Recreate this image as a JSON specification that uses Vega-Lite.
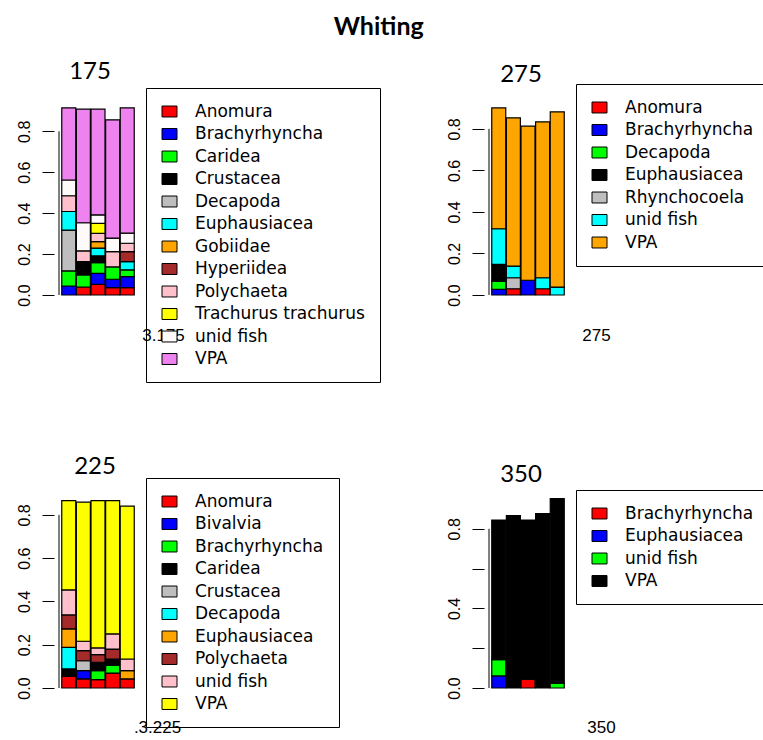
{
  "$schema": "https://vega.github.io/schema/vega-lite/v6.json",
  "background": "white",
  "padding": {"left": 15, "top": 14, "right": 0, "bottom": 0},
  "title": {"text": "Whiting", "font": "Lato", "fontSize": 25, "fontWeight": "bold", "color": "black", "anchor": "middle", "frame": "bounds", "dx": -14, "offset": 20},
  "columns": 2,
  "spacing": {"row": 198, "column": 342},
  "bounds": "flush",
  "resolve": {"scale": {"color": "independent"}, "legend": {"color": "independent"}},
  "config": {
    "view": {"stroke": null},
    "axis": {"labelFont": "Liberation Sans", "labelFontSize": 16, "labelColor": "black", "tickColor": "black", "tickSize": 12, "tickWidth": 1, "titleFont": "Liberation Sans", "titleFontSize": 17, "titleFontWeight": "normal", "titleColor": "black"},
    "legend": {"labelFont": "DejaVu Sans", "labelFontSize": 17, "labelColor": "black", "labelOffset": 17, "symbolType": "M-1,-0.73H1V0.73H-1Z", "symbolSize": 225, "symbolStrokeColor": "black", "symbolStrokeWidth": 1, "symbolOpacity": 1, "strokeColor": "black", "padding": 15, "rowPadding": 4.5, "orient": "none", "title": null, "labelLimit": 400},
    "title": {"font": "Lato", "fontSize": 24, "fontWeight": "normal", "color": "black"}
  },
  "concat": [
    {
      "width": 88, "height": 195,
      "title": {"text": "175", "anchor": "middle", "dx": -8, "offset": 4},
      "data": {"values": [
        {"bar": 1, "taxon": "Brachyrhyncha", "p": 0.044},
        {"bar": 1, "taxon": "Caridea", "p": 0.074},
        {"bar": 1, "taxon": "Decapoda", "p": 0.199},
        {"bar": 1, "taxon": "Euphausiacea", "p": 0.091},
        {"bar": 1, "taxon": "Polychaeta", "p": 0.077},
        {"bar": 1, "taxon": "unid fish", "p": 0.077},
        {"bar": 1, "taxon": "VPA", "p": 0.353},
        {"bar": 2, "taxon": "Anomura", "p": 0.039},
        {"bar": 2, "taxon": "Caridea", "p": 0.059},
        {"bar": 2, "taxon": "Crustacea", "p": 0.065},
        {"bar": 2, "taxon": "Polychaeta", "p": 0.053},
        {"bar": 2, "taxon": "unid fish", "p": 0.137},
        {"bar": 2, "taxon": "VPA", "p": 0.555},
        {"bar": 3, "taxon": "Anomura", "p": 0.052},
        {"bar": 3, "taxon": "Brachyrhyncha", "p": 0.054},
        {"bar": 3, "taxon": "Caridea", "p": 0.052},
        {"bar": 3, "taxon": "Crustacea", "p": 0.033},
        {"bar": 3, "taxon": "Euphausiacea", "p": 0.038},
        {"bar": 3, "taxon": "Gobiidae", "p": 0.032},
        {"bar": 3, "taxon": "Polychaeta", "p": 0.040},
        {"bar": 3, "taxon": "Trachurus trachurus", "p": 0.049},
        {"bar": 3, "taxon": "unid fish", "p": 0.042},
        {"bar": 3, "taxon": "VPA", "p": 0.516},
        {"bar": 4, "taxon": "Anomura", "p": 0.036},
        {"bar": 4, "taxon": "Brachyrhyncha", "p": 0.041},
        {"bar": 4, "taxon": "Caridea", "p": 0.060},
        {"bar": 4, "taxon": "Polychaeta", "p": 0.075},
        {"bar": 4, "taxon": "unid fish", "p": 0.066},
        {"bar": 4, "taxon": "VPA", "p": 0.578},
        {"bar": 5, "taxon": "Anomura", "p": 0.036},
        {"bar": 5, "taxon": "Brachyrhyncha", "p": 0.054},
        {"bar": 5, "taxon": "Caridea", "p": 0.033},
        {"bar": 5, "taxon": "Euphausiacea", "p": 0.040},
        {"bar": 5, "taxon": "Hyperiidea", "p": 0.049},
        {"bar": 5, "taxon": "Polychaeta", "p": 0.041},
        {"bar": 5, "taxon": "unid fish", "p": 0.049},
        {"bar": 5, "taxon": "VPA", "p": 0.613}
      ]},
      "transform": [{"calculate": "lower(datum.taxon)", "as": "k"}],
      "layer": [
        {
          "mark": {"type": "bar", "width": 14, "stroke": "black", "strokeWidth": 1.2},
          "encoding": {
            "x": {"field": "bar", "type": "quantitative", "scale": {"domain": [0.333, 5.667], "nice": false, "zero": false}, "axis": {"domain": false, "ticks": false, "labels": false, "grid": false, "title": "3.175", "titleX": 109, "titleY": 40, "titleAlign": "center", "titleBaseline": "middle", "titleAnchor": null}},
            "y": {"field": "p", "type": "quantitative", "stack": "zero", "scale": {"domain": [0, 0.953], "nice": false, "zero": true}, "axis": {"domain": false, "grid": false, "title": null, "values": [0, 0.2, 0.4, 0.6, 0.8], "format": ".1f", "labelAngle": -90, "labelAlign": "center", "labelBaseline": "bottom", "labelPadding": 10}},
            "color": {"field": "taxon", "type": "nominal",
              "scale": {"domain": ["Anomura", "Brachyrhyncha", "Caridea", "Crustacea", "Decapoda", "Euphausiacea", "Gobiidae", "Hyperiidea", "Polychaeta", "Trachurus trachurus", "unid fish", "VPA"],
                        "range": ["#FF0000", "#0000FF", "#00FF00", "#000000", "#BEBEBE", "#00FFFF", "#FFA500", "#A52A2A", "#FFC0CB", "#FFFF00", "#FFFAFA", "#EE82EE"]},
              "legend": {"orient": "none", "legendX": 92, "legendY": -12}},
            "order": {"field": "k", "type": "ordinal", "sort": "ascending"}
          }
        },
        {
          "data": {"values": [{"from": 0, "to": 0.8}]},
          "mark": {"type": "rule", "color": "black", "strokeWidth": 1},
          "encoding": {"x": {"datum": 0.333}, "y": {"field": "from", "type": "quantitative"}, "y2": {"field": "to"}}
        }
      ]
    },
    {
      "width": 88, "height": 195,
      "title": {"text": "275", "anchor": "middle", "dx": -7, "offset": -3},
      "data": {"values": [
        {"bar": 1, "taxon": "Brachyrhyncha", "p": 0.027},
        {"bar": 1, "taxon": "Decapoda", "p": 0.040},
        {"bar": 1, "taxon": "Euphausiacea", "p": 0.080},
        {"bar": 1, "taxon": "unid fish", "p": 0.172},
        {"bar": 1, "taxon": "VPA", "p": 0.582},
        {"bar": 2, "taxon": "Anomura", "p": 0.030},
        {"bar": 2, "taxon": "Rhynchocoela", "p": 0.053},
        {"bar": 2, "taxon": "unid fish", "p": 0.056},
        {"bar": 2, "taxon": "VPA", "p": 0.714},
        {"bar": 3, "taxon": "Brachyrhyncha", "p": 0.071},
        {"bar": 3, "taxon": "VPA", "p": 0.742},
        {"bar": 4, "taxon": "Anomura", "p": 0.030},
        {"bar": 4, "taxon": "unid fish", "p": 0.053},
        {"bar": 4, "taxon": "VPA", "p": 0.751},
        {"bar": 5, "taxon": "unid fish", "p": 0.038},
        {"bar": 5, "taxon": "VPA", "p": 0.844}
      ]},
      "transform": [{"calculate": "lower(datum.taxon)", "as": "k"}],
      "layer": [
        {
          "mark": {"type": "bar", "width": 14, "stroke": "black", "strokeWidth": 1.2},
          "encoding": {
            "x": {"field": "bar", "type": "quantitative", "scale": {"domain": [0.333, 5.667], "nice": false, "zero": false}, "axis": {"domain": false, "ticks": false, "labels": false, "grid": false, "title": "275", "titleX": 112, "titleY": 40, "titleAlign": "center", "titleBaseline": "middle", "titleAnchor": null}},
            "y": {"field": "p", "type": "quantitative", "stack": "zero", "scale": {"domain": [0, 0.939], "nice": false, "zero": true}, "axis": {"domain": false, "grid": false, "title": null, "values": [0, 0.2, 0.4, 0.6, 0.8], "format": ".1f", "labelAngle": -90, "labelAlign": "center", "labelBaseline": "bottom", "labelPadding": 10}},
            "color": {"field": "taxon", "type": "nominal",
              "scale": {"domain": ["Anomura", "Brachyrhyncha", "Decapoda", "Euphausiacea", "Rhynchocoela", "unid fish", "VPA"],
                        "range": ["#FF0000", "#0000FF", "#00FF00", "#000000", "#BEBEBE", "#00FFFF", "#FFA500"]},
              "legend": {"orient": "none", "legendX": 92, "legendY": -16}},
            "order": {"field": "k", "type": "ordinal", "sort": "ascending"}
          }
        },
        {
          "data": {"values": [{"from": 0, "to": 0.8}]},
          "mark": {"type": "rule", "color": "black", "strokeWidth": 1},
          "encoding": {"x": {"datum": 0.333}, "y": {"field": "from", "type": "quantitative"}, "y2": {"field": "to"}}
        }
      ]
    },
    {
      "width": 88, "height": 195,
      "title": {"text": "225", "anchor": "middle", "dx": -3, "offset": -1},
      "data": {"values": [
        {"bar": 1, "taxon": "Anomura", "p": 0.054},
        {"bar": 1, "taxon": "Caridea", "p": 0.034},
        {"bar": 1, "taxon": "Decapoda", "p": 0.100},
        {"bar": 1, "taxon": "Euphausiacea", "p": 0.085},
        {"bar": 1, "taxon": "Polychaeta", "p": 0.065},
        {"bar": 1, "taxon": "unid fish", "p": 0.115},
        {"bar": 1, "taxon": "VPA", "p": 0.413},
        {"bar": 2, "taxon": "Anomura", "p": 0.042},
        {"bar": 2, "taxon": "Bivalvia", "p": 0.038},
        {"bar": 2, "taxon": "Crustacea", "p": 0.046},
        {"bar": 2, "taxon": "Polychaeta", "p": 0.047},
        {"bar": 2, "taxon": "unid fish", "p": 0.043},
        {"bar": 2, "taxon": "VPA", "p": 0.643},
        {"bar": 3, "taxon": "Anomura", "p": 0.039},
        {"bar": 3, "taxon": "Brachyrhyncha", "p": 0.041},
        {"bar": 3, "taxon": "Caridea", "p": 0.039},
        {"bar": 3, "taxon": "Polychaeta", "p": 0.035},
        {"bar": 3, "taxon": "unid fish", "p": 0.031},
        {"bar": 3, "taxon": "VPA", "p": 0.681},
        {"bar": 4, "taxon": "Anomura", "p": 0.069},
        {"bar": 4, "taxon": "Brachyrhyncha", "p": 0.037},
        {"bar": 4, "taxon": "Caridea", "p": 0.028},
        {"bar": 4, "taxon": "Polychaeta", "p": 0.046},
        {"bar": 4, "taxon": "unid fish", "p": 0.070},
        {"bar": 4, "taxon": "VPA", "p": 0.616},
        {"bar": 5, "taxon": "Anomura", "p": 0.042},
        {"bar": 5, "taxon": "Euphausiacea", "p": 0.038},
        {"bar": 5, "taxon": "unid fish", "p": 0.054},
        {"bar": 5, "taxon": "VPA", "p": 0.706}
      ]},
      "transform": [{"calculate": "lower(datum.taxon)", "as": "k"}],
      "layer": [
        {
          "mark": {"type": "bar", "width": 14, "stroke": "black", "strokeWidth": 1.2},
          "encoding": {
            "x": {"field": "bar", "type": "quantitative", "scale": {"domain": [0.333, 5.667], "nice": false, "zero": false}, "axis": {"domain": false, "ticks": false, "labels": false, "grid": false, "title": ".3.225", "titleX": 103, "titleY": 39, "titleAlign": "center", "titleBaseline": "middle", "titleAnchor": null}},
            "y": {"field": "p", "type": "quantitative", "stack": "zero", "scale": {"domain": [0, 0.901], "nice": false, "zero": true}, "axis": {"domain": false, "grid": false, "title": null, "values": [0, 0.2, 0.4, 0.6, 0.8], "format": ".1f", "labelAngle": -90, "labelAlign": "center", "labelBaseline": "bottom", "labelPadding": 10}},
            "color": {"field": "taxon", "type": "nominal",
              "scale": {"domain": ["Anomura", "Bivalvia", "Brachyrhyncha", "Caridea", "Crustacea", "Decapoda", "Euphausiacea", "Polychaeta", "unid fish", "VPA"],
                        "range": ["#FF0000", "#0000FF", "#00FF00", "#000000", "#BEBEBE", "#00FFFF", "#FFA500", "#A52A2A", "#FFC0CB", "#FFFF00"]},
              "legend": {"orient": "none", "legendX": 92, "legendY": -15}},
            "order": {"field": "k", "type": "ordinal", "sort": "ascending"}
          }
        },
        {
          "data": {"values": [{"from": 0, "to": 0.8}]},
          "mark": {"type": "rule", "color": "black", "strokeWidth": 1},
          "encoding": {"x": {"datum": 0.333}, "y": {"field": "from", "type": "quantitative"}, "y2": {"field": "to"}}
        }
      ]
    },
    {
      "width": 88, "height": 195,
      "title": {"text": "350", "anchor": "middle", "dx": -7, "offset": 3},
      "data": {"values": [
        {"bar": 1, "taxon": "Euphausiacea", "p": 0.061},
        {"bar": 1, "taxon": "unid fish", "p": 0.082},
        {"bar": 1, "taxon": "VPA", "p": 0.701},
        {"bar": 2, "taxon": "VPA", "p": 0.867},
        {"bar": 3, "taxon": "Brachyrhyncha", "p": 0.044},
        {"bar": 3, "taxon": "VPA", "p": 0.800},
        {"bar": 4, "taxon": "VPA", "p": 0.876},
        {"bar": 5, "taxon": "unid fish", "p": 0.025},
        {"bar": 5, "taxon": "VPA", "p": 0.927}
      ]},
      "transform": [{"calculate": "lower(datum.taxon)", "as": "k"}],
      "layer": [
        {
          "mark": {"type": "bar", "width": 14, "stroke": "black", "strokeWidth": 1.2},
          "encoding": {
            "x": {"field": "bar", "type": "quantitative", "scale": {"domain": [0.333, 5.667], "nice": false, "zero": false}, "axis": {"domain": false, "ticks": false, "labels": false, "grid": false, "title": "350", "titleX": 117, "titleY": 39, "titleAlign": "center", "titleBaseline": "middle", "titleAnchor": null}},
            "y": {"field": "p", "type": "quantitative", "stack": "zero", "scale": {"domain": [0, 0.98], "nice": false, "zero": true}, "axis": {"domain": false, "grid": false, "title": null, "values": [0, 0.2, 0.4, 0.6, 0.8], "format": ".1f", "labelExpr": "indexof([0, 0.4, 0.8], datum.value) >= 0 ? datum.label : ''", "labelAngle": -90, "labelAlign": "center", "labelBaseline": "bottom", "labelPadding": 10}},
            "color": {"field": "taxon", "type": "nominal",
              "scale": {"domain": ["Brachyrhyncha", "Euphausiacea", "unid fish", "VPA"],
                        "range": ["#FF0000", "#0000FF", "#00FF00", "#000000"]},
              "legend": {"orient": "none", "legendX": 92, "legendY": -3}},
            "order": {"field": "k", "type": "ordinal", "sort": "ascending"}
          }
        },
        {
          "data": {"values": [{"from": 0, "to": 0.8}]},
          "mark": {"type": "rule", "color": "black", "strokeWidth": 1},
          "encoding": {"x": {"datum": 0.333}, "y": {"field": "from", "type": "quantitative"}, "y2": {"field": "to"}}
        }
      ]
    }
  ]
}
